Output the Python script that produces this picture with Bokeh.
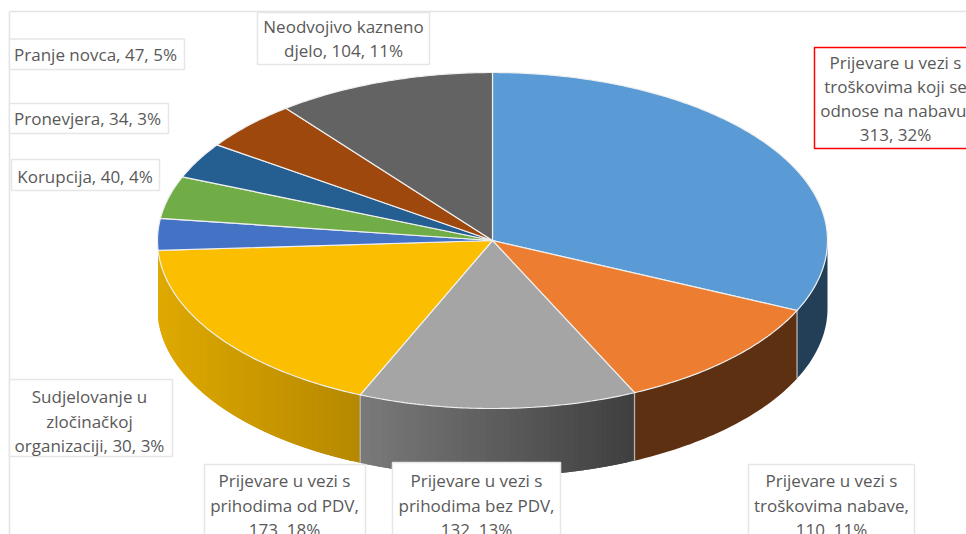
import math
from bokeh.plotting import figure
from bokeh.models import Range1d
from bokeh.core.properties import value
from bokeh.embed import file_html
from bokeh.resources import INLINE

# ---- data ----
categories = ["Prijevare u vezi s troškovima koji se odnose na nabavu",
              "Prijevare u vezi s troškovima nabave",
              "Prijevare u vezi s prihodima bez PDV",
              "Prijevare u vezi s prihodima od PDV",
              "Sudjelovanje u zločinačkoj organizaciji",
              "Korupcija", "Pronevjera", "Pranje novca", "Neodvojivo kazneno djelo"]
values = [313, 110, 132, 173, 30, 40, 34, 47, 104]
top_colors = ["#5B9BD5", "#ED7D31", "#A5A5A5", "#FBBE00", "#4472C4",
              "#70AD47", "#255E91", "#9E480E", "#636363"]
# side wall colours at left and right end of each visible wall
side_left = {0: (0x22, 0x3F, 0x57), 1: (0x5E, 0x30, 0x12),
             2: (0x7A, 0x7A, 0x7A), 3: (0xDF, 0xA9, 0x00)}
side_right = {0: (0x22, 0x3F, 0x57), 1: (0x5E, 0x30, 0x12),
              2: (0x3F, 0x3F, 0x3F), 3: (0xB5, 0x88, 0x00)}

label_lines = [["Prijevare u vezi s", "troškovima koji se", "odnose na nabavu,", "313, 32%"],
               ["Prijevare u vezi s", "troškovima nabave,", "110, 11%"],
               ["Prijevare u vezi s", "prihodima bez PDV,", "132, 13%"],
               ["Prijevare u vezi s", "prihodima od PDV,", "173, 18%"],
               ["Sudjelovanje u", "zločinačkoj", "organizaciji, 30, 3%"],
               ["Korupcija, 40, 4%"], ["Pronevjera, 34, 3%"], ["Pranje novca, 47, 5%"],
               ["Neodvojivo kazneno", "djelo, 104, 11%"]]

# ---- layout (page pixels) ----
CX, CY, RX, RY, DEPTH = 492, 240, 335, 168, 68
# box: left, right, top, bottom, text centre x, first line y, line step
boxes = [(814, 980, 47, 148, 895, 62, 24),
         (748, 914, 464, 560, 831, 480, 24.5),
         (392, 560, 462, 560, 476, 480, 24.5),
         (204, 365, 464, 560, 284, 480, 24.5),
         (9, 172, 379, 456, 89, 396, 24.5),
         (11, 159, 159, 190, 84.5, 175.5, 24),
         (9, 168, 103, 133, 87, 118, 24),
         (9, 184, 38.5, 69, 95, 54, 24),
         (257, 429, 12, 64, 343, 26, 24)]
FONT = "Open Sans"
FONT_SIZE = "17px"

p = figure(width=966, height=534, output_backend="svg", toolbar_location=None,
           x_range=Range1d(0, 966), y_range=Range1d(534, 0), min_border=0,
           outline_line_color=None, background_fill_color="white",
           border_fill_color="white")
p.axis.visible = False
p.grid.visible = False

p.line([9, 9], [11, 534], line_color="#E3E3E3", line_width=1.5)
p.line([9, 966], [11, 11], line_color="#E3E3E3", line_width=1.5)


def pt(a):
    return CX + RX * math.sin(a), CY - RY * math.cos(a)


total = sum(values)
edges = [0.0]
for v in values:
    edges.append(edges[-1] + v / total * 2 * math.pi)

# side walls, front half only: one polygon if flat, overlapping bands if shaded
xs, ys, cols = [], [], []
for i in range(4):
    a0, a1 = max(edges[i], math.pi / 2), min(edges[i + 1], 3 * math.pi / 2)
    flat = side_left[i] == side_right[i]
    n = 1 if flat else 48
    x_lo, x_hi = sorted((pt(a0)[0], pt(a1)[0]))
    for k in range(n):
        u0 = a0 + (a1 - a0) * k / n
        u1 = a0 + (a1 - a0) * min(k + 2, n) / n
        arc = [pt(u0 + (u1 - u0) * j / 40) for j in range(41)]
        mid = pt(a0 + (a1 - a0) * (k + 0.5) / n)[0]
        t = (mid - x_lo) / (x_hi - x_lo)
        c = [round(side_left[i][j] + (side_right[i][j] - side_left[i][j]) * t) for j in range(3)]
        xs.append([q[0] for q in arc] + [q[0] for q in reversed(arc)])
        ys.append([q[1] for q in arc] + [q[1] + DEPTH for q in reversed(arc)])
        cols.append("#%02x%02x%02x" % tuple(c))
p.patches(xs, ys, fill_color=cols, line_color=None)

# seams between the walls
sx, sy0, sy1 = [], [], []
for e in edges[1:4]:
    x, y = pt(e)
    sx.append(x)
    sy0.append(y)
    sy1.append(y + DEPTH)
p.segment(sx, sy0, sx, sy1, line_color="#B5B5B5", line_width=1.3)

# top face
txs, tys = [], []
for i in range(len(values)):
    n = max(4, int((edges[i + 1] - edges[i]) * 80))
    a = [edges[i] + (edges[i + 1] - edges[i]) * k / n for k in range(n + 1)]
    txs.append([CX] + [pt(u)[0] for u in a])
    tys.append([CY] + [pt(u)[1] for u in a])
p.patches(txs, tys, fill_color=top_colors, line_color="#EFEFEF", line_width=1.2)

# data label boxes
box_cols = ["#FF0000"] + ["#E6E6E6"] * 8
p.quad(left=[b[0] for b in boxes], right=[b[1] for b in boxes],
       top=[b[2] for b in boxes], bottom=[b[3] for b in boxes],
       fill_color="white", line_color=box_cols, line_width=1.5)

tx, ty, tt = [], [], []
for b, lines in zip(boxes, label_lines):
    for k, s in enumerate(lines):
        tx.append(b[4])
        ty.append(b[5] + k * b[6])
        tt.append(s)
p.text(tx, ty, text=tt, text_font=value(FONT), text_font_size=value(FONT_SIZE),
       text_color="#595959", text_align="center", text_baseline="middle")

open("out.html", "w").write(file_html(p, INLINE))
